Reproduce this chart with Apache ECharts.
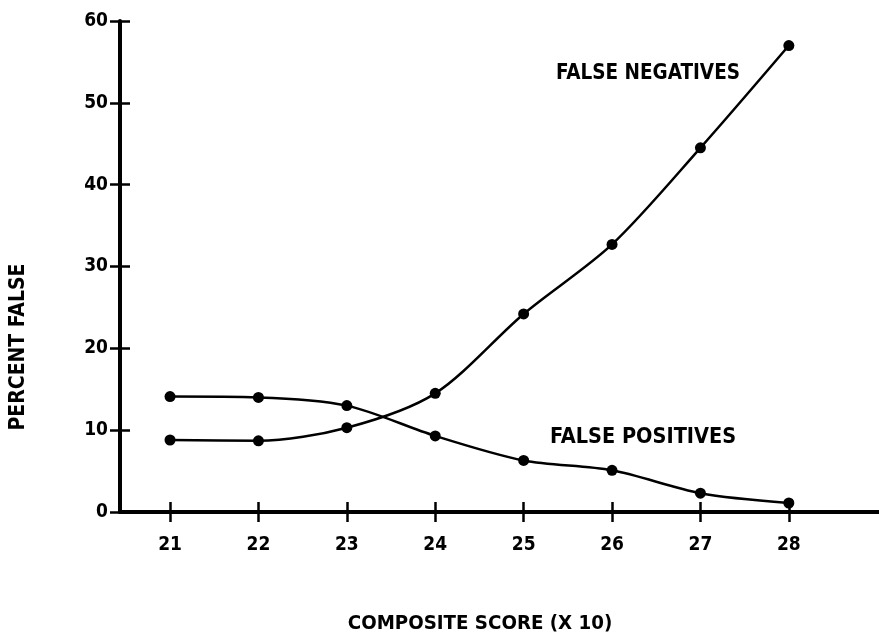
<!DOCTYPE html>
<html>
<head>
<meta charset="utf-8">
<script src="https://cdn.jsdelivr.net/npm/echarts@6/dist/echarts.min.js"></script>
<style>
html,body{margin:0;padding:0;background:#fff;}
#chart{width:879px;height:638px;}
</style>
</head>
<body>
<div id="chart"></div>
<script>
const scores = [21, 22, 23, 24, 25, 26, 27, 28];
const falseNegatives = [8.8, 8.7, 10.3, 14.5, 24.2, 32.7, 44.5, 57.0];
const falsePositives = [14.1, 14.0, 13.0, 9.3, 6.3, 5.1, 2.3, 1.1];
const yTicks = [0, 10, 20, 30, 40, 50, 60];
const xTitle = 'COMPOSITE SCORE (X 10)';
const yTitle = 'PERCENT FALSE';
const fnLabel = 'FALSE NEGATIVES';
const fpLabel = 'FALSE POSITIVES';

const FONT = "'DejaVu Sans Condensed', 'Liberation Sans Narrow', sans-serif";
const chart = echarts.init(document.getElementById('chart'));

function pairs(vals){ return scores.map((s,i)=>[s, vals[i]]); }

const yBase = {
  type: 'value', position: 'left', min: yTicks[0], max: yTicks[yTicks.length-1], interval: 10,
  splitLine: {show: false}
};

chart.setOption({
  animation: false,
  backgroundColor: '#fff',
  grid: {left: 120, right: 0, top: 21, bottom: 126},
  xAxis: [{
    type: 'value', min: 20.434, max: 29.02,
    axisLine: {show: true, onZero: false, lineStyle: {color: '#000', width: 4}},
    axisTick: {show: true, inside: false, length: 10, customValues: scores, lineStyle: {color: '#000', width: 2.5}},
    axisLabel: {show: true, margin: 24, customValues: scores, color: '#000', fontFamily: FONT, fontWeight: 'bold', fontSize: 19},
    splitLine: {show: false}
  }, {
    type: 'value', position: 'bottom', min: 20.434, max: 29.02,
    axisLine: {show: false},
    axisTick: {show: true, inside: true, length: 10, customValues: scores, lineStyle: {color: '#000', width: 2.5}},
    axisLabel: {show: false},
    splitLine: {show: false}
  }],
  yAxis: [Object.assign({}, yBase, {
    axisLine: {show: true, onZero: false, lineStyle: {color: '#000', width: 4}},
    axisTick: {show: true, inside: false, length: 10, lineStyle: {color: '#000', width: 2.5}},
    axisLabel: {show: true, margin: 12, color: '#000', fontFamily: FONT, fontWeight: 'bold', fontSize: 19}
  }), Object.assign({}, yBase, {
    axisLine: {show: false},
    axisTick: {show: true, inside: true, length: 10, lineStyle: {color: '#000', width: 2.5}},
    axisLabel: {show: false}
  })],
  series: [{
    name: fnLabel, type: 'line', smooth: 0.3, data: pairs(falseNegatives),
    symbol: 'circle', symbolSize: 11, itemStyle: {color: '#000'},
    lineStyle: {color: '#000', width: 2.5}
  }, {
    name: fpLabel, type: 'line', smooth: 0.3, data: pairs(falsePositives),
    symbol: 'circle', symbolSize: 11, itemStyle: {color: '#000'},
    lineStyle: {color: '#000', width: 2.5}
  }],
  graphic: [
    {type: 'text', x: 556, y: 74, style: {text: fnLabel, font: "bold 20.5px " + FONT, fill: '#000', textAlign: 'left', textVerticalAlign: 'middle'}},
    {type: 'text', x: 550, y: 437, style: {text: fpLabel, font: "bold 21.5px " + FONT, fill: '#000', textAlign: 'left', textVerticalAlign: 'middle'}},
    {type: 'text', x: 480, y: 624, style: {text: xTitle, font: "bold 20.3px " + FONT, fill: '#000', textAlign: 'center', textVerticalAlign: 'middle'}},
    {type: 'text', x: 19, y: 347, rotation: Math.PI/2, style: {text: yTitle, font: "bold 21px " + FONT, fill: '#000', textAlign: 'center', textVerticalAlign: 'middle'}}
  ]
});
</script>
</body>
</html>
